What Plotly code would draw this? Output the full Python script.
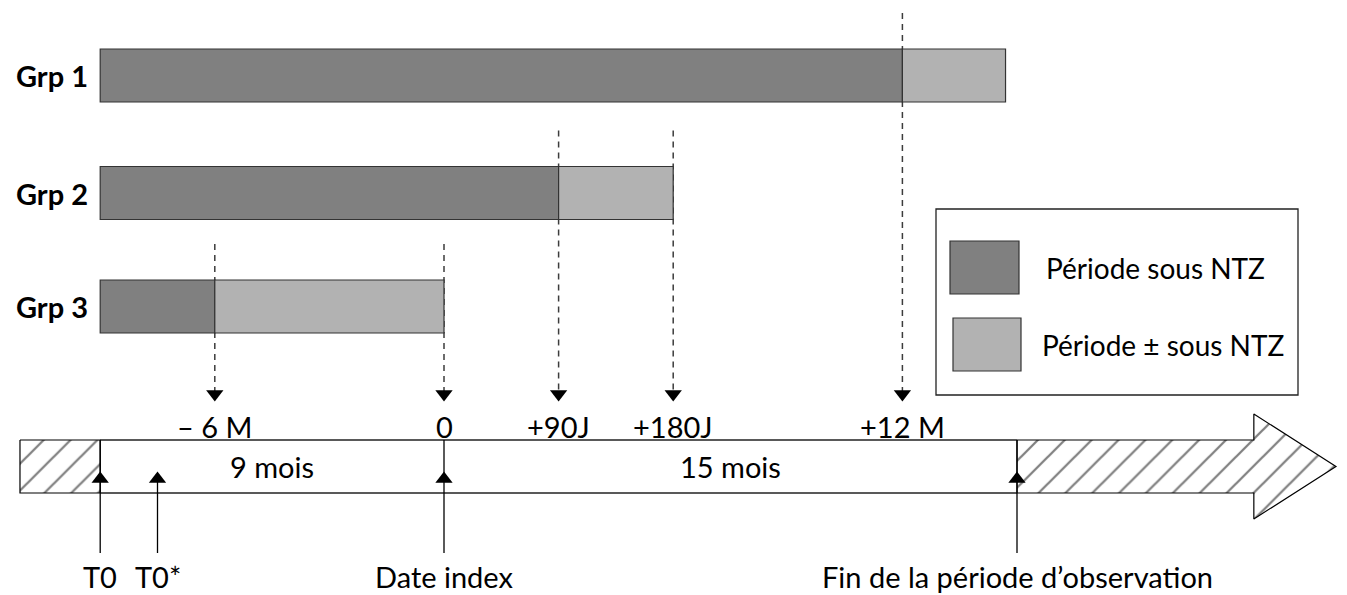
import plotly.graph_objects as go

W, H = 1347, 595

# ---------------- data (months relative to the index date) ----------------
groups = ['Grp 1', 'Grp 2', 'Grp 3']
grp_start = [-9, -9, -9]            # start of follow-up (T0)
ntz_end = [12, 3, -6]               # end of "Période sous NTZ"
partial_end = [14.7, 6, 0]          # end of "Période ± sous NTZ"

mark_labels = ['– 6 M', '0', '+90J', '+180J', '+12 M']
mark_months = [-6, 0, 3, 6, 12]
mark_group = [2, 2, 1, 1, 0]        # group whose bar each guide comes from

bottom_labels = ['T0', 'T0*', 'Date index', 'Fin de la période d’observation']
bottom_months = [-9, -7.5, 0, 15]
bottom_full = [True, False, True, True]

period_labels = ['9 mois', '15 mois']
period_from = [-9, 0]
period_to = [0, 15]

timeline_start = -11.1
arrow_shaft_end = 21.2
arrow_tip = 23.35

legend_labels = ['Période sous NTZ', 'Période ± sous NTZ']

# ---------------- style / layout ----------------
DARK = '#808080'
LIGHT = '#b2b2b2'
EDGE = '#333333'
FONT = 'Lato'
FS = 29

row_y = [75.5, 193, 306.5]
bar_h = 53
guide_rise = 36
arrow_y = 394
tl_top, tl_bot = 440, 493
up_tip_y = 479
bottom_end = 553

# x axis: month -> pixel mapping fitted on the drawing
px0, ppm = 444.0, 38.2
xr = [-px0 / ppm, (W - px0) / ppm]

fig = go.Figure()

# bars
fig.add_trace(go.Bar(
    orientation='h', y=row_y, base=grp_start,
    x=[e - s for s, e in zip(grp_start, ntz_end)],
    width=bar_h, marker=dict(color=DARK, line=dict(color=EDGE, width=1.2)),
    hoverinfo='skip'))
fig.add_trace(go.Bar(
    orientation='h', y=row_y, base=ntz_end,
    x=[e - s for s, e in zip(ntz_end, partial_end)],
    width=bar_h, marker=dict(color=LIGHT, line=dict(color=EDGE, width=1.2)),
    hoverinfo='skip'))

shapes = []
annotations = []

# group labels
for g, name in enumerate(groups):
    annotations.append(dict(x=grp_start[g], y=row_y[g], xref='x', yref='y',
                            text='<b>' + name + '</b>', showarrow=False,
                            xanchor='right', xshift=-10,
                            font=dict(family=FONT, size=FS, color='black')))

# dashed guides
for m, g in zip(mark_months, mark_group):
    shapes.append(dict(type='line', xref='x', yref='y', x0=m, x1=m,
                       y0=row_y[g] - bar_h / 2 - guide_rise, y1=arrow_y,
                       line=dict(color='#3c3c3c', width=1.5, dash='6px,5px'),
                       layer='below'))
fig.add_trace(go.Scatter(x=mark_months, y=[arrow_y] * len(mark_months),
                         mode='markers', hoverinfo='skip',
                         marker=dict(symbol='triangle-down', size=15, color='black')))
for m, lab in zip(mark_months, mark_labels):
    annotations.append(dict(x=m, y=426, xref='x', yref='y', text=lab,
                            showarrow=False, yanchor='middle',
                            font=dict(family=FONT, size=FS, color='black')))

# timeline: hatched pre-period
pat = dict(shape='/', size=19, solidity=0.12, fgcolor='black', bgcolor='white')
fig.add_trace(go.Scatter(
    x=[timeline_start, grp_start[0], grp_start[0], timeline_start, timeline_start],
    y=[tl_top, tl_top, tl_bot, tl_bot, tl_top],
    fill='toself', fillpattern=pat, fillcolor='white', mode='lines',
    line=dict(color='black', width=1.2), hoverinfo='skip'))
# hatched post-observation arrow
obs_end = bottom_months[-1]
mid_y = (tl_top + tl_bot) / 2
fig.add_trace(go.Scatter(
    x=[obs_end, arrow_shaft_end, arrow_shaft_end, arrow_tip, arrow_shaft_end,
       arrow_shaft_end, obs_end, obs_end],
    y=[tl_top, tl_top, tl_top - 26, mid_y, tl_bot + 26, tl_bot, tl_bot, tl_top],
    fill='toself', fillpattern=pat, fillcolor='white', mode='lines',
    line=dict(color='black', width=1.2), hoverinfo='skip'))
# white observation window edges
for yy in (tl_top, tl_bot):
    shapes.append(dict(type='line', xref='x', yref='y', x0=grp_start[0], x1=obs_end,
                       y0=yy, y1=yy, line=dict(color='#222222', width=1.3)))
for a, b, lab in zip(period_from, period_to, period_labels):
    annotations.append(dict(x=(a + b) / 2, y=mid_y, xref='x', yref='y', text=lab,
                            showarrow=False,
                            font=dict(family=FONT, size=FS, color='black')))

# bottom up arrows
for m, full, lab in zip(bottom_months, bottom_full, bottom_labels):
    shapes.append(dict(type='line', xref='x', yref='y', x0=m, x1=m,
                       y0=tl_top if full else up_tip_y, y1=bottom_end,
                       line=dict(color='black', width=1.3)))
    annotations.append(dict(x=m, y=H, xref='x', yref='y', text=lab,
                            showarrow=False, yanchor='bottom', borderpad=0,
                            font=dict(family=FONT, size=FS, color='black')))
fig.add_trace(go.Scatter(x=bottom_months, y=[up_tip_y] * len(bottom_months),
                         mode='markers', hoverinfo='skip',
                         marker=dict(symbol='triangle-up', size=15, color='black')))

# legend box
def fx(p):
    return p / W

shapes.append(dict(type='rect', xref='paper', yref='y', x0=fx(936), x1=fx(1298),
                   y0=209, y1=395, line=dict(color='#222222', width=1.3),
                   fillcolor='white', layer='below'))
sw = [(950, 1019, 241, 294, DARK), (953, 1021, 318, 371, LIGHT)]
for (a, b, c, d, col), lab, tx in zip(sw, legend_labels, [1044, 1040]):
    shapes.append(dict(type='rect', xref='paper', yref='y', x0=fx(a), x1=fx(b),
                       y0=c, y1=d, fillcolor=col, line=dict(color=EDGE, width=1.2)))
    annotations.append(dict(x=fx(tx), y=(c + d) / 2, xref='paper', yref='y',
                            text=lab, showarrow=False, xanchor='left',
                            font=dict(family=FONT, size=FS - 1, color='black')))

fig.update_layout(
    width=W, height=H, margin=dict(l=0, r=0, t=0, b=0),
    paper_bgcolor='white', plot_bgcolor='white', showlegend=False,
    barmode='overlay', shapes=shapes, annotations=annotations,
    xaxis=dict(range=xr, visible=False, fixedrange=True),
    yaxis=dict(range=[H, 0], visible=False, fixedrange=True),
)

fig.write_html('out.html', config={'displayModeBar': False},
               post_script="document.body.style.margin='0';"
                           "document.body.style.overflow='hidden';")
